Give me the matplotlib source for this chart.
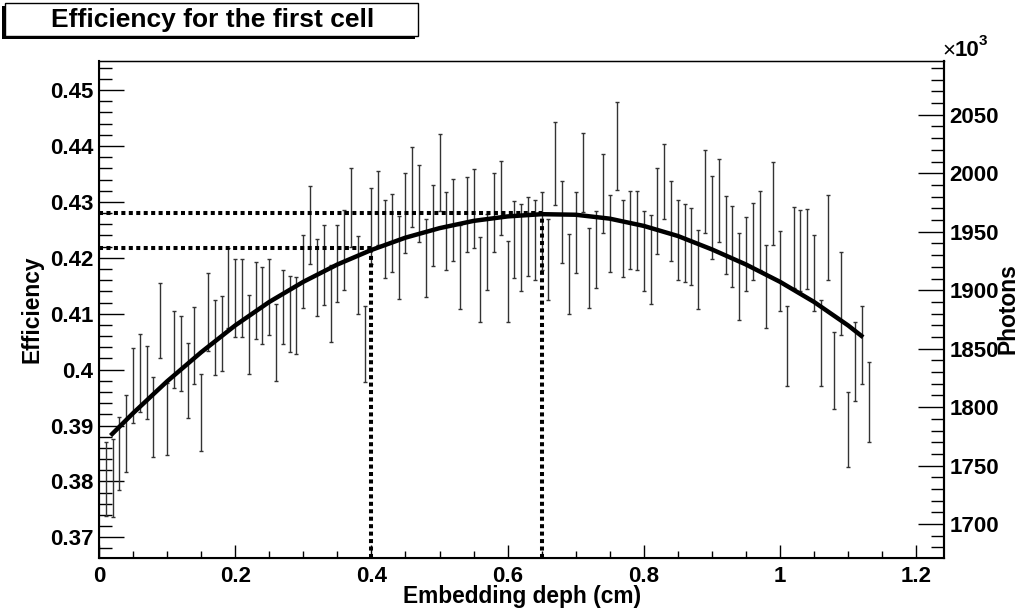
import numpy as np
import matplotlib
matplotlib.use("Agg")
import matplotlib.pyplot as plt
from matplotlib.patches import Rectangle
from matplotlib.ticker import MultipleLocator, FormatStrFormatter

plt.rcParams['font.family'] = ['Liberation Sans', 'DejaVu Sans']
plt.rcParams['font.weight'] = 'bold'

# measured points: embedding depth (cm), efficiency and its error
depth = np.round(np.arange(1, 114) * 0.01, 2)
efficiency = [
    0.3805, 0.3806, 0.3850, 0.3886, 0.3971, 0.3994, 0.3977, 0.3915, 0.4088, 0.3912,
    0.4036, 0.4028, 0.3981, 0.4043, 0.3923, 0.4103, 0.4057, 0.4065, 0.4146, 0.4128,
    0.4128, 0.4063, 0.4124, 0.4114, 0.4130, 0.4049, 0.4112, 0.4100, 0.4097, 0.4176,
    0.4259, 0.4165, 0.4187, 0.4118, 0.4190, 0.4214, 0.4290, 0.4169, 0.4046, 0.4257,
    0.4289, 0.4234, 0.4244, 0.4200, 0.4280, 0.4327, 0.4297, 0.4200, 0.4258, 0.4353,
    0.4248, 0.4268, 0.4184, 0.4278, 0.4288, 0.4161, 0.4210, 0.4281, 0.4307, 0.4158,
    0.4232, 0.4218, 0.4238, 0.4232, 0.4248, 0.4197, 0.4368, 0.4264, 0.4171, 0.4245,
    0.4353, 0.4182, 0.4215, 0.4315, 0.4244, 0.4400, 0.4234, 0.4250, 0.4249, 0.4212,
    0.4197, 0.4284, 0.4336, 0.4266, 0.4232, 0.4226, 0.4220, 0.4179, 0.4318, 0.4272,
    0.4303, 0.4241, 0.4220, 0.4167, 0.4207, 0.4229, 0.4249, 0.4148, 0.4297, 0.4176,
    0.4042, 0.4218, 0.4213, 0.4216, 0.4173, 0.4048, 0.4236, 0.3999, 0.4136, 0.3893,
    0.4015, 0.4044, 0.3942,
]
eff_err = [
    0.0066, 0.0069, 0.0066, 0.0069, 0.0067, 0.0069, 0.0066, 0.0071, 0.0067, 0.0064,
    0.0069, 0.0067, 0.0067, 0.0069, 0.0069, 0.0069, 0.0067, 0.0067, 0.0072, 0.0069,
    0.0070, 0.0071, 0.0069, 0.0069, 0.0068, 0.0069, 0.0067, 0.0068, 0.0069, 0.0065,
    0.0070, 0.0069, 0.0071, 0.0069, 0.0069, 0.0071, 0.0070, 0.0070, 0.0068, 0.0068,
    0.0066, 0.0070, 0.0070, 0.0074, 0.0072, 0.0072, 0.0069, 0.0070, 0.0072, 0.0069,
    0.0070, 0.0073, 0.0075, 0.0067, 0.0071, 0.0076, 0.0068, 0.0070, 0.0067, 0.0072,
    0.0069, 0.0078, 0.0071, 0.0071, 0.0069, 0.0072, 0.0074, 0.0074, 0.0072, 0.0072,
    0.0071, 0.0072, 0.0069, 0.0070, 0.0069, 0.0078, 0.0069, 0.0070, 0.0071, 0.0071,
    0.0079, 0.0077, 0.0067, 0.0072, 0.0072, 0.0070, 0.0069, 0.0070, 0.0074, 0.0074,
    0.0074, 0.0070, 0.0072, 0.0078, 0.0066, 0.0069, 0.0071, 0.0074, 0.0074, 0.0072,
    0.0072, 0.0072, 0.0073, 0.0071, 0.0068, 0.0077, 0.0076, 0.0069, 0.0075, 0.0067,
    0.0071, 0.0070, 0.0071,
]

# fitted curve
fit_x = [0.017, 0.05, 0.10, 0.15, 0.20, 0.25, 0.30, 0.35, 0.40, 0.45, 0.50, 0.55,
         0.60, 0.65, 0.70, 0.75, 0.80, 0.85, 0.90, 0.95, 1.00, 1.05, 1.10, 1.122]
fit_y = [0.3882, 0.3922, 0.3979, 0.4031, 0.4079, 0.4121, 0.4157, 0.4188, 0.4214, 0.4236,
         0.4253, 0.4266, 0.4274, 0.4278, 0.4277, 0.4270, 0.4257, 0.4239, 0.4215, 0.4188,
         0.4157, 0.4121, 0.4079, 0.4058]

# guide lines
mark_x = [0.40, 0.65]
mark_y = [0.4217, 0.4281]

eff_lim = (0.3663, 0.4552)
photon_lim = (1671, 2096)
depth_lim = (0, 1.2408)

W, H = 1021, 615
fig = plt.figure(figsize=(W / 100, H / 100), dpi=100)
ax = fig.add_axes([99 / W, 57 / H, 845 / W, 497 / H])

ax.errorbar(depth, efficiency, yerr=eff_err, fmt='none', ecolor='#333333',
            elinewidth=1.0, capsize=1.1, capthick=1.0, zorder=2)
ax.plot(fit_x, fit_y, color='black', lw=3.2, solid_capstyle='butt',
        solid_joinstyle='round', zorder=3)

dots = (0, (1.0, 0.85))
for mx, my in zip(mark_x, mark_y):
    ax.plot([0, mx], [my, my], color='black', lw=2.9, linestyle=dots, zorder=4)
    ax.plot([mx, mx], [eff_lim[0], my], color='black', lw=2.9, linestyle=dots, zorder=4)

ax.set_xlim(*depth_lim)
ax.set_ylim(*eff_lim)
ax.xaxis.set_major_locator(MultipleLocator(0.2))
ax.xaxis.set_minor_locator(MultipleLocator(0.05))
ax.yaxis.set_major_locator(MultipleLocator(0.01))
ax.yaxis.set_minor_locator(MultipleLocator(0.002))
ax.xaxis.set_major_formatter(FormatStrFormatter('%g'))
ax.yaxis.set_major_formatter(FormatStrFormatter('%g'))
ax.tick_params(axis='y', which='major', direction='in', length=18, width=1.0,
               labelsize=16, pad=4, right=False)
ax.tick_params(axis='y', which='minor', direction='in', length=9.5, width=1.0, right=False)
ax.tick_params(axis='x', which='major', direction='in', length=9.5, width=1.0,
               labelsize=16, pad=6, top=False)
ax.tick_params(axis='x', which='minor', direction='in', length=5, width=1.0, top=False)
for side in ['left', 'bottom', 'right']:
    ax.spines[side].set_linewidth(1.5)
ax.spines['top'].set_linewidth(1.0)

ax2 = ax.twinx()
ax2.set_ylim(*photon_lim)
ax2.yaxis.set_major_locator(MultipleLocator(50))
ax2.yaxis.set_minor_locator(MultipleLocator(10))
ax2.yaxis.set_major_formatter(FormatStrFormatter('%d'))
ax2.tick_params(axis='y', which='major', direction='in', length=19, width=1.0,
                labelsize=16, pad=4)
ax2.tick_params(axis='y', which='minor', direction='in', length=9.5, width=1.0)
ax2.spines['right'].set_linewidth(1.5)

for lab in ax.get_xticklabels() + ax.get_yticklabels() + ax2.get_yticklabels():
    lab.set_fontweight('bold')

# axis titles
fig.text(522 / W, 1 - 597 / H, 'Embedding deph (cm)', ha='center', va='center',
         fontsize=16.4, fontweight='bold')
fig.text(32 / W, 1 - 309 / H, 'Efficiency', ha='center', va='center',
         rotation=90, fontsize=16.4, fontweight='bold')
fig.text(1008 / W, 1 - 309 / H, 'Photons', ha='center', va='center',
         rotation=90, fontsize=16.4, fontweight='bold')

# exponent label
fig.text(942 / W, 1 - 51 / H, '\u00d7', ha='left', va='center', fontsize=16,
         fontweight='normal')
fig.text(955 / W, 1 - 51 / H, '10', ha='left', va='center', fontsize=16, fontweight='bold')
fig.text(979 / W, 1 - 41 / H, '3', ha='left', va='center', fontsize=11, fontweight='bold')

# title box with shadow
fig.patches.append(Rectangle((2 / W, 1 - 39 / H), 413 / W, 33 / H, transform=fig.transFigure,
                             facecolor='black', edgecolor='black', lw=0, zorder=1))
fig.patches.append(Rectangle((5 / W, 1 - 36 / H), 413 / W, 33 / H, transform=fig.transFigure,
                             facecolor='white', edgecolor='black', lw=1.0, zorder=2))
fig.text(213 / W, 1 - 20 / H, 'Efficiency for the first cell', ha='center', va='center',
         fontsize=19, fontweight='bold', zorder=3)

fig.savefig('out.png', dpi=100)
